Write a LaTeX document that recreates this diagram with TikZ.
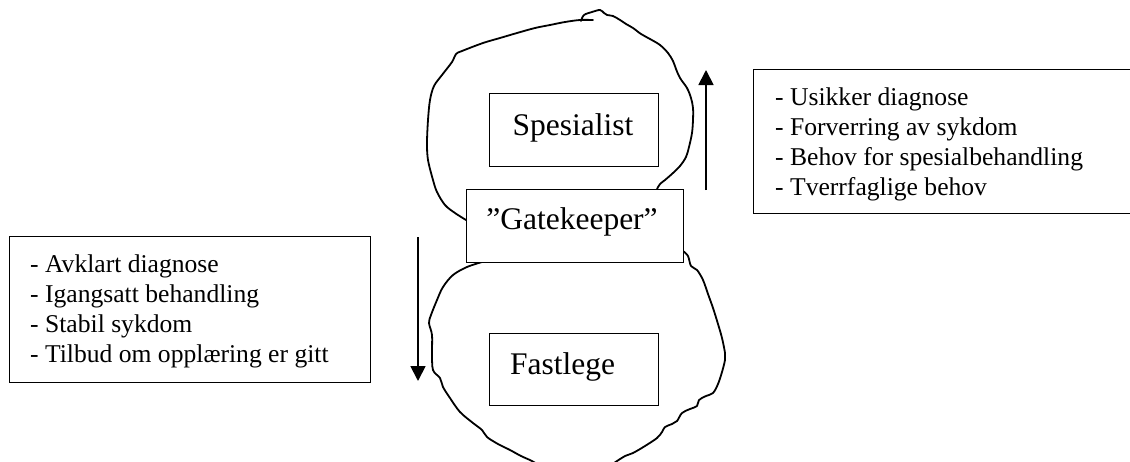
\documentclass[tikz,border=0pt]{standalone}
\usepackage{fontspec}
\setmainfont{Liberation Serif}
\usetikzlibrary{arrows.meta}

\tikzset{
  box/.style={draw, line width=1.3pt, fill=white, inner sep=0pt, anchor=north west},
  bigtxt/.style={inner sep=0pt, anchor=base, font=\fontsize{31.5}{36}\selectfont},
  listtxt/.style={inner sep=0pt, anchor=base west, font=\fontsize{25.6}{30}\selectfont},
  blob/.style={line width=1.8pt, line join=round, line cap=round},
  flow/.style={line width=1.8pt, -{Triangle[length=15pt,width=15pt]}}
}

\begin{document}
\begin{tikzpicture}[x=1pt,y=-1pt]
\useasboundingbox (0,0) rectangle (1130,461);
\begin{scope}
\clip (0,0) rectangle (1130,461);

% upper freehand outline (around the specialist)
\draw[blob] plot[smooth, tension=0.55] coordinates {
  (466,220) (455,213) (445,205) (437,192) (433,180) (428,160) (427,143)
  (428,120) (430,100) (434,86) (442,75) (452,62) (456,54) (462,51)
  (483,43) (500,38) (517,33) (535,28) (550,25) (565,22) (580,20) (593,20)};
\draw[blob] plot[smooth, tension=0.55] coordinates {
  (581,21) (584,15) (592,12) (600,10) (604,13) (607,15) (613,16) (620,20)
  (626,24) (633,28) (641,34) (650,39) (660,45) (668,53) (673,61) (676,69)
  (680,78) (687,88) (691,98) (693,108) (693,120) (692,133) (689,147)
  (686,157) (680,166) (673,173) (665,180) (660,184) (657,189)};

% lower freehand outline (around the GP)
\draw[blob] plot[smooth, tension=0.55] coordinates {
  (482,262) (467,267) (453,275) (443,287) (437,300) (431,315) (429,323)
  (432,335) (432,353) (433,370) (440,378) (443,387) (450,398) (460,412)
  (473,423) (482,430) (487,437) (498,444) (510,450) (521,456) (532,461)
  (545,468) (575,474) (605,468) (617,461) (625,456) (633,453) (645,446)
  (657,438) (662,432) (665,427) (672,424) (677,421) (682,413) (690,409)
  (697,406) (699,400) (706,396) (713,393) (718,384) (722,372) (725,360)
  (725,353) (722,338) (718,324) (713,308) (708,294) (703,280) (697,270)
  (691,266) (688,256) (683,251)};

% role boxes
\node[box, minimum width=169pt, minimum height=73pt] (spec) at (489,93) {};
\node[box, minimum width=217pt, minimum height=73pt] (gate) at (466,189) {};
\node[box, minimum width=169pt, minimum height=72pt] (fast) at (489,333) {};
\node[bigtxt] (spectxt) at (573,135) {Spesialist};
\node[bigtxt] (gatetxt) at (572,229) {”Gatekeeper”};
\node[bigtxt, anchor=base west] (fasttxt) at (510,374) {Fastlege};

% criteria boxes
\node[box, minimum width=390pt, minimum height=144pt] (up) at (753,69) {};
\node[listtxt] (u1) at (775,105) {- Usikker diagnose};
\node[listtxt] (u2) at (775,135) {- Forverring av sykdom};
\node[listtxt] (u3) at (775,165) {- Behov for spesialbehandling};
\node[listtxt] (u4) at (775,195) {- Tverrfaglige behov};

\node[box, minimum width=361pt, minimum height=146pt] (down) at (9,236) {};
\node[listtxt] (d1) at (30,272) {- Avklart diagnose};
\node[listtxt] (d2) at (30,302) {- Igangsatt behandling};
\node[listtxt] (d3) at (30,332) {- Stabil sykdom};
\node[listtxt] (d4) at (30,362) {- Tilbud om opplæring er gitt};

% direction arrows
\coordinate (upfrom) at (706,190);
\coordinate (upto) at (706,70);
\coordinate (downfrom) at (418,237);
\coordinate (downto) at (418,381);
\draw[flow] (upfrom) -- (upto);
\draw[flow] (downfrom) -- (downto);
\end{scope}
\end{tikzpicture}
\end{document}
